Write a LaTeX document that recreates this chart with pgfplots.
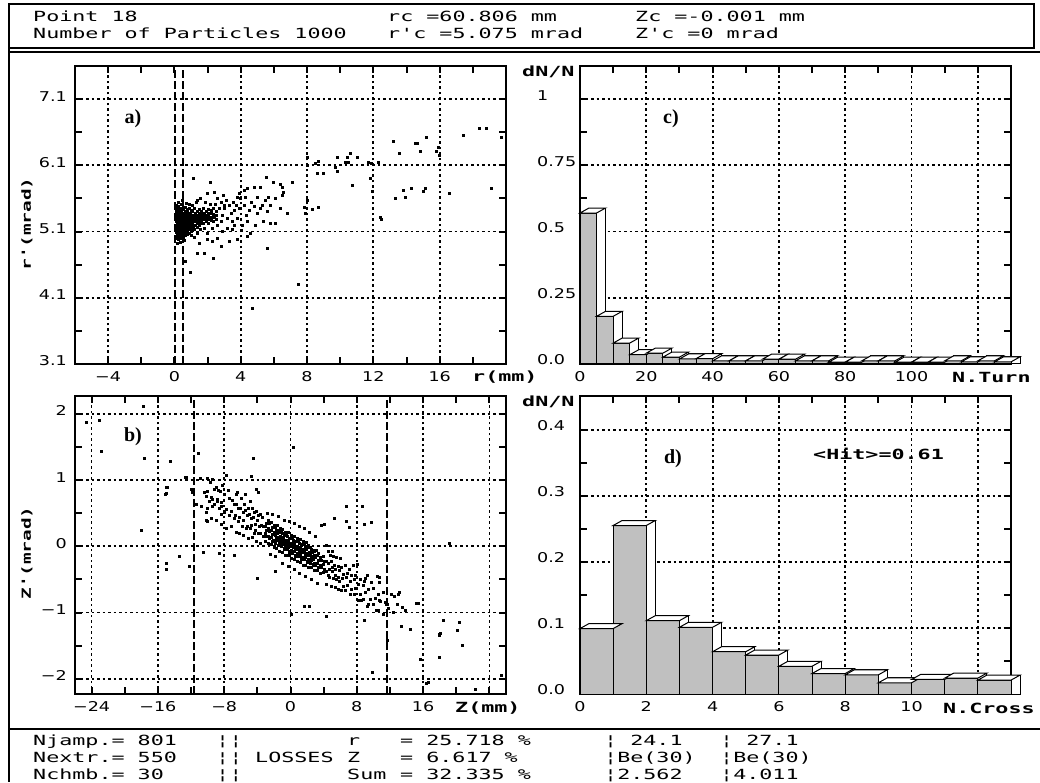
\documentclass[border=0pt]{standalone}
\usepackage{fontspec}
\usepackage{pgfplots}
\pgfplotsset{compat=1.18}
\usepackage{pgfplotstable}
\newfontfamily\monof[FakeStretch=1.55]{DejaVu Sans Mono}
\newfontfamily\tickf[FakeStretch=1.3]{DejaVu Sans}
\newfontfamily\serf{Liberation Serif}
\newcommand\hdr{\monof\fontsize{14}{16}\selectfont}
\newcommand\lab{\monof\bfseries\fontsize{14}{16}\selectfont}
\newcommand\rlab{\monof\bfseries\fontsize{12.5}{14}\selectfont}
\newcommand\plet{\serf\bfseries\fontsize{20}{22}\selectfont}
\definecolor{barg}{RGB}{192,192,192}

% top face of the 3D bars (bar width in pt, depth 9pt x 5pt)
\pgfdeclareplotmark{topc}{%
  \pgfpathmoveto{\pgfqpoint{-8.29pt}{0pt}}\pgfpathlineto{\pgfqpoint{8.29pt}{0pt}}%
  \pgfpathlineto{\pgfqpoint{17.29pt}{5pt}}\pgfpathlineto{\pgfqpoint{0.71pt}{5pt}}%
  \pgfpathclose\pgfusepathqfillstroke}
\pgfdeclareplotmark{topd}{%
  \pgfpathmoveto{\pgfqpoint{-16.58pt}{0pt}}\pgfpathlineto{\pgfqpoint{16.58pt}{0pt}}%
  \pgfpathlineto{\pgfqpoint{25.58pt}{5pt}}\pgfpathlineto{\pgfqpoint{-7.58pt}{5pt}}%
  \pgfpathclose\pgfusepathqfillstroke}

\pgfplotstableread{
x y
2.5 0.570
7.5 0.180
12.5 0.079
17.5 0.035
22.5 0.041
27.5 0.026
32.5 0.019
37.5 0.020
42.5 0.012
47.5 0.012
52.5 0.012
57.5 0.018
62.5 0.018
67.5 0.012
72.5 0.012
77.5 0.007
82.5 0.007
87.5 0.012
92.5 0.012
97.5 0.007
102.5 0.007
107.5 0.007
112.5 0.012
117.5 0.008
122.5 0.012
127.5 0.008
}\histc

\pgfplotstableread{
x y
0.5 0.099
1.5 0.255
2.5 0.111
3.5 0.101
4.5 0.064
5.5 0.059
6.5 0.042
7.5 0.031
8.5 0.029
9.5 0.017
10.5 0.022
11.5 0.024
12.5 0.021
}\histd

\pgfplotsset{
  panel/.style={
    scale only axis, width=431pt, height=298pt, anchor=south west,
    axis line style={line width=2pt},
    tick align=inside, xtick pos=both, ytick pos=both,
    xticklabel pos=lower, yticklabel pos=left,
    major tick length=7pt, minor tick length=7pt,
    tick style={black, line width=2pt},
    grid=major,
    major grid style={black, line width=1.8pt, dash pattern=on 2.5pt off 3pt},
    tick label style={font=\tickf\fontsize{13.5}{15}\selectfont, inner sep=0pt},
    xticklabel style={anchor=north, yshift=-7pt},
  },
  scat/.style={panel, yticklabel style={anchor=east, xshift=-8pt, yshift=3pt}},
  hist/.style={panel, clip=false, yticklabel style={anchor=west, xshift=-43pt, yshift=4pt}},
  dots/.style={only marks, mark=square*, mark size=1pt, black},
  cut/.style={black, line width=2pt, dash pattern=on 8pt off 3pt},
}

\begin{document}
\frenchspacing
\begin{tikzpicture}
\useasboundingbox (0pt,0pt) rectangle (1040pt,782pt);

% frames
\draw[line width=1.5pt] (9pt,778pt) rectangle (1034pt,734pt);
\draw[line width=2pt] (9pt,730pt) -- (1040pt,730pt);
\draw[line width=2pt] (9pt,734pt) -- (9pt,0pt);
\draw[line width=2pt] (9pt,53pt) -- (1040pt,53pt);

% header
\node[anchor=base west, inner sep=0pt, font=\hdr] at (33pt,760pt) {Point 18};
\node[anchor=base west, inner sep=0pt, font=\hdr] at (33pt,743pt) {Number of Particles 1000};
\node[anchor=base west, inner sep=0pt, font=\hdr] at (387pt,760pt) {rc =60.806 mm};
\node[anchor=base west, inner sep=0pt, font=\hdr] at (387pt,743pt) {r'c =5.075 mrad};
\node[anchor=base west, inner sep=0pt, font=\hdr] at (635pt,760pt) {Zc =-0.001 mm};
\node[anchor=base west, inner sep=0pt, font=\hdr] at (635pt,743pt) {Z'c =0 mrad};

% footer
\foreach \yy/\a/\b/\c/\d/\e/\f in {37/Njamp.= 801/ /r/= 25.718 \%/¦ 24.1/¦ 27.1,
                                  20/Nextr.= 550/LOSSES/Z/= 6.617 \%/¦Be(30)/¦Be(30),
                                  3/Nchmb.= 30/ /Sum/= 32.335 \%/¦2.562/¦4.011}{
  \node[anchor=base west, inner sep=0pt, font=\hdr] at (33pt,\yy pt) {\a};
  \node[anchor=base west, inner sep=0pt, font=\hdr] at (216pt,\yy pt) {¦¦};
  \node[anchor=base west, inner sep=0pt, font=\hdr] at (255pt,\yy pt) {\b};
  \node[anchor=base west, inner sep=0pt, font=\hdr] at (347pt,\yy pt) {\c};
  \node[anchor=base west, inner sep=0pt, font=\hdr] at (400pt,\yy pt) {\d};
  \node[anchor=base west, inner sep=0pt, font=\hdr] at (604pt,\yy pt) {\e};
  \node[anchor=base west, inner sep=0pt, font=\hdr] at (720pt,\yy pt) {\f};
}

% ---------------- a) r - r'
\begin{axis}[scat, at={(75pt,418pt)},
  xmin=-6, xmax=20, ymin=3.1, ymax=7.6,
  xtick={-4,0,4,8,12,16}, xticklabels={−4,0,4,8,12,16},
  minor xtick={-2,2,6,10,14,18},
  ytick={3.1,4.1,5.1,6.1,7.1}, yticklabels={3.1,4.1,5.1,6.1,7.1},
  minor ytick={3.6,4.6,5.6,6.6}]
\addplot[dots] coordinates {
(0.12,5.00)(0.14,5.05)(0.11,5.09)(0.13,5.13)(0.12,5.17)(0.15,5.21)(0.11,5.25)(0.13,5.29)(0.12,5.33)(0.14,5.37)(0.12,5.41)(0.13,5.45)(0.12,5.50)
(0.22,4.98)(0.24,5.03)(0.21,5.07)(0.23,5.11)(0.22,5.15)(0.25,5.19)(0.21,5.23)(0.23,5.27)(0.22,5.31)(0.24,5.35)(0.22,5.39)(0.23,5.43)(0.22,5.48)
(0.32,5.01)(0.34,5.05)(0.31,5.09)(0.33,5.13)(0.32,5.17)(0.35,5.21)(0.31,5.25)(0.33,5.29)(0.32,5.33)(0.34,5.37)(0.32,5.42)(0.33,5.46)
(0.42,5.00)(0.44,5.04)(0.41,5.08)(0.43,5.12)(0.42,5.16)(0.45,5.20)(0.41,5.24)(0.43,5.28)(0.42,5.32)(0.44,5.36)(0.42,5.40)(0.43,5.44)(0.42,5.52)
(0.52,5.02)(0.54,5.06)(0.51,5.10)(0.53,5.14)(0.52,5.18)(0.55,5.22)(0.51,5.26)(0.53,5.30)(0.52,5.34)(0.54,5.38)(0.52,5.43)
(0.62,5.04)(0.64,5.08)(0.61,5.12)(0.63,5.16)(0.62,5.20)(0.65,5.24)(0.61,5.28)(0.63,5.32)(0.62,5.36)(0.64,5.41)(0.62,5.47)
(0.74,5.06)(0.76,5.10)(0.73,5.14)(0.75,5.18)(0.74,5.22)(0.77,5.26)(0.73,5.30)(0.75,5.34)(0.74,5.39)(0.76,5.44)
(0.86,5.08)(0.88,5.13)(0.85,5.17)(0.87,5.21)(0.86,5.25)(0.89,5.29)(0.85,5.33)(0.87,5.38)(0.86,5.45)
(0.98,5.10)(1.00,5.15)(0.97,5.20)(0.99,5.24)(0.98,5.28)(1.01,5.32)(0.97,5.36)(0.99,5.42)
(1.10,5.12)(1.12,5.18)(1.09,5.23)(1.11,5.27)(1.10,5.31)(1.13,5.35)(1.09,5.40)
(1.22,5.14)(1.24,5.20)(1.21,5.25)(1.23,5.29)(1.22,5.33)(1.25,5.38)(1.21,5.46)
(1.35,5.17)(1.37,5.22)(1.34,5.27)(1.36,5.31)(1.35,5.35)(1.38,5.41)
(1.48,5.19)(1.50,5.24)(1.47,5.29)(1.49,5.33)(1.48,5.38)(1.51,5.44)
(1.62,5.22)(1.64,5.27)(1.61,5.31)(1.63,5.36)(1.62,5.41)
(1.76,5.23)(1.78,5.28)(1.75,5.33)(1.77,5.38)(1.76,5.46)
(1.90,5.25)(1.92,5.30)(1.89,5.35)(1.91,5.40)
(2.05,5.22)(2.07,5.28)(2.04,5.33)(2.06,5.38)(2.05,5.44)
(2.20,5.27)(2.22,5.32)(2.19,5.37)(2.21,5.42)
(2.35,5.25)(2.37,5.31)(2.34,5.36)(2.36,5.45)
(2.50,5.29)(2.52,5.35)(2.49,5.40)
(0.15,4.92)(0.35,4.94)(0.6,4.97)(0.25,5.55)(0.45,5.58)(0.7,5.53)(0.9,5.52)(1.1,5.5)(1.3,5.55)(1.37,5.58)
(1.57,5.6)(1.97,5.68)(2.37,5.7)(2.97,5.65)(3.57,5.55)(3.98,5.6)(1.16,5.9)(2.17,5.85)(1.0,5.05)(1.2,5.02)
(1.4,5.08)(1.57,5.13)(1.97,5.08)(1.8,5.15)(2.3,5.15)(2.6,5.2)(2.8,5.25)(2.9,5.35)(3.0,5.45)(3.17,5.15)
(3.47,5.13)(3.2,5.3)(3.4,5.38)(3.3,5.5)(3.6,5.42)(3.8,5.3)(3.9,5.45)(3.78,4.98)(4.38,5.03)(4.58,5.08)
(4.1,5.2)(4.3,5.35)(4.5,5.42)(4.2,5.5)(4.6,5.55)(4.8,5.48)(5.0,5.38)(4.28,5.62)(4.98,5.62)(3.88,5.68)
(3.78,5.62)(4.18,5.72)(4.38,5.75)(4.78,5.77)(5.18,5.77)(5.48,5.58)(5.68,5.62)(5.52,5.92)(5.98,5.85)(6.39,5.82)
(6.49,5.77)(7.13,5.85)(6.58,5.7)(6.49,5.65)(6.39,5.45)(6.79,5.38)(5.38,5.25)(5.78,5.23)(6.08,5.23)(5.58,4.85)
(7.49,4.3)(4.68,3.95)(0.66,4.65)(0.96,4.48)(1.37,4.77)(1.77,4.78)(2.31,4.7)(2.27,4.95)(2.6,5.0)(1.5,4.92)
(5.3,5.5)(5.8,5.5)(6.1,5.6)(3.6,5.2)(2.7,5.45)(2.8,5.55)(3.1,5.58)(2.6,5.6)(2.45,5.52)(2.15,5.52)
(1.85,5.55)(2.9,5.1)(3.5,5.25)(4.0,5.12)(4.4,5.25)(4.9,5.2)(5.2,5.45)(5.6,5.4)(3.3,4.95)(2.0,4.98)
(2.8,4.88)(3.0,5.5)(3.7,5.5)
(13.2,6.46)(13.57,6.29)(14.5,6.44)(14.65,6.44)(14.8,6.31)(15.2,6.53)(15.8,6.31)(17.4,6.56)(18.4,6.66)(18.8,6.66)
(19.7,6.53)(13.3,5.6)(13.8,5.73)(13.9,5.62)(14.3,5.75)(15.0,5.71)(15.1,5.75)(16.6,5.68)(19.1,5.75)(12.4,5.31)
(12.5,5.29)(11.9,5.71)(11.8,5.9)(11.7,6.15)(11.85,6.13)(12.3,6.15)(10.6,6.28)(10.4,6.23)(11.0,6.22)(10.3,6.15)
(10.5,6.15)(9.8,6.23)(9.7,6.07)(9.8,6.01)(10.7,5.8)(8.5,6.13)(8.7,6.16)(8.6,5.98)(9.0,5.98)(8.0,6.22)
(8.0,6.1)(7.8,5.47)(7.9,5.38)(8.3,5.43)(8.7,5.47)(8.0,5.58)(16.0,6.25)(15.9,6.38)
};
\addplot[cut] coordinates {(0.02,3.1) (0.02,7.6)};
\addplot[cut] coordinates {(0.5,3.1) (0.5,7.6)};
\end{axis}

% ---------------- b) Z - Z'
\begin{axis}[scat, at={(75pt,88pt)},
  xmin=-26, xmax=26, ymin=-2.23, ymax=2.27,
  xtick={-24,-16,-8,0,8,16,24}, xticklabels={−24,−16,−8,0,8,16,},
  minor xtick={-20,-12,-4,4,12,20},
  ytick={-2,-1,0,1,2}, yticklabels={−2,−1,0,1,2},
  minor ytick={-1.5,-0.5,0.5,1.5}]
\addplot[dots] coordinates {
(-3.08,0.07)(-2.92,0.15)(-3.1,0.20)(-2.96,0.24)(-3.04,0.31)(-2.9,0.35)
(-2.72,0.04)(-2.55,0.12)(-2.7,0.16)(-2.6,0.23)(-2.75,0.27)(-2.58,0.35)(-2.68,0.39)
(-2.38,0.03)(-2.22,0.07)(-2.36,0.14)(-2.25,0.18)(-2.34,0.25)(-2.21,0.29)(-2.36,0.36)
(-2.02,-0.01)(-1.88,0.07)(-2.04,0.10)(-1.9,0.18)(-1.99,0.21)(-1.86,0.29)(-2.01,0.32)
(-1.68,-0.03)(-1.52,0.01)(-1.66,0.09)(-1.55,0.12)(-1.64,0.20)(-1.51,0.24)(-1.66,0.32)
(-1.32,-0.08)(-1.18,0.00)(-1.33,0.04)(-1.2,0.11)(-1.29,0.15)(-1.16,0.23)(-1.3,0.27)
(-0.97,-0.09)(-0.82,-0.05)(-0.98,0.03)(-0.85,0.06)(-0.94,0.14)(-0.81,0.18)(-0.96,0.26)
(-0.62,-0.13)(-0.47,-0.05)(-0.63,-0.01)(-0.5,0.06)(-0.59,0.10)(-0.46,0.17)(-0.61,0.21)
(-0.27,-0.14)(-0.12,-0.10)(-0.28,-0.02)(-0.15,0.01)(-0.24,0.09)(-0.11,0.13)(-0.26,0.21)
(0.08,-0.18)(0.23,-0.10)(0.07,-0.06)(0.2,0.01)(0.11,0.05)(0.24,0.13)(0.09,0.17)
(0.43,-0.19)(0.58,-0.15)(0.42,-0.07)(0.55,-0.04)(0.46,0.04)(0.59,0.08)(0.44,0.16)
(0.78,-0.23)(0.93,-0.15)(0.77,-0.11)(0.9,-0.04)(0.81,0.00)(0.94,0.08)(0.79,0.12)
(1.13,-0.24)(1.28,-0.20)(1.12,-0.12)(1.25,-0.09)(1.16,-0.01)(1.29,0.03)(1.14,0.11)
(1.48,-0.28)(1.63,-0.20)(1.47,-0.16)(1.6,-0.09)(1.51,-0.05)(1.64,0.03)(1.49,0.07)
(1.83,-0.28)(1.98,-0.24)(1.82,-0.16)(1.95,-0.13)(1.86,-0.05)(1.99,-0.01)(1.84,0.06)
(2.18,-0.32)(2.33,-0.24)(2.17,-0.20)(2.3,-0.13)(2.21,-0.09)(2.34,-0.02)(2.19,0.02)
(2.53,-0.32)(2.68,-0.28)(2.52,-0.21)(2.65,-0.17)(2.56,-0.09)(2.69,-0.06)
(2.88,-0.36)(3.03,-0.28)(2.87,-0.25)(3.0,-0.17)(2.91,-0.13)(3.04,-0.06)
(3.23,-0.36)(3.38,-0.32)(3.22,-0.25)(3.35,-0.21)(3.26,-0.13)(3.39,-0.10)
(3.58,-0.40)(3.73,-0.32)(3.57,-0.29)(3.7,-0.21)(3.61,-0.17)
(3.93,-0.39)(4.08,-0.35)(3.92,-0.27)(4.05,-0.23)(3.96,-0.15)
(-1.85,0.05)(-1.76,0.13)(-1.83,0.17)(-1.74,0.25)(-1.5,0.02)(-1.41,0.10)(-1.48,0.14)(-1.39,0.22)
(-1.15,0.00)(-1.06,0.08)(-1.13,0.12)(-1.04,0.20)(-0.8,-0.03)(-0.71,0.05)(-0.78,0.09)(-0.69,0.17)
(-0.45,-0.05)(-0.36,0.03)(-0.43,0.07)(-0.34,0.15)(-0.1,-0.08)(-0.01,0.00)(-0.08,0.04)(0.01,0.12)
(0.25,-0.10)(0.34,-0.02)(0.27,0.02)(0.36,0.10)(0.6,-0.13)(0.69,-0.05)(0.62,0.00)(0.71,0.08)
(0.95,-0.15)(1.04,-0.07)(0.97,-0.03)(1.06,0.05)(1.3,-0.17)(1.39,-0.09)(1.32,-0.05)(1.41,0.03)
(1.65,-0.20)(1.74,-0.12)(1.67,-0.08)(1.76,0.00)(2.0,-0.22)(2.09,-0.14)(2.02,-0.10)(2.11,-0.02)
(2.35,-0.25)(2.44,-0.17)(2.37,-0.13)(2.46,-0.05)(2.7,-0.27)(2.79,-0.19)(2.72,-0.15)(2.81,-0.07)
(-10.2,0.52)(-9.85,0.68)(-10.05,0.83)(-9.7,0.97)(-9.55,0.43)(-9.25,0.63)(-9.6,0.74)(-9.15,0.86)(-9.45,1.02)
(-8.95,0.39)(-8.6,0.57)(-8.85,0.71)(-8.5,0.83)(-8.35,0.33)(-8.05,0.52)(-8.4,0.66)(-7.95,0.78)(-8.25,0.93)
(-7.75,0.27)(-7.45,0.47)(-7.8,0.56)(-7.35,0.73)(-7.55,0.85)(-7.15,0.31)(-6.85,0.42)(-7.2,0.53)(-6.8,0.63)(-7.05,0.69)
(-6.6,0.22)(-6.35,0.38)(-6.7,0.47)(-6.3,0.57)(-6.55,0.63)(-6.4,0.81)(-6.15,0.2)(-5.85,0.31)(-6.2,0.44)(-5.75,0.52)(-6.05,0.58)(-5.9,0.73)
(-5.65,0.17)(-5.35,0.28)(-5.7,0.4)(-5.25,0.47)(-5.45,0.55)(-5.6,0.64)(-5.15,0.12)(-4.85,0.27)(-5.2,0.31)(-4.75,0.42)(-4.95,0.49)(-5.1,0.57)(-4.9,0.68)
(-4.65,0.14)(-4.35,0.2)(-4.7,0.32)(-4.25,0.34)(-4.55,0.44)(-4.4,0.52)(-4.6,0.58)(-4.15,0.08)(-3.85,0.2)(-4.2,0.24)(-3.75,0.3)(-4.05,0.4)(-3.9,0.47)(-4.1,0.53)
(-3.65,0.04)(-3.35,0.16)(-3.7,0.2)(-3.3,0.3)(-3.55,0.32)(-3.45,0.44)(-3.6,0.48)
(-2.8,0.5)(-2.2,0.48)(-1.5,0.45)(-0.8,0.4)(-0.2,0.38)(0.5,0.35)(1.0,0.3)(1.6,0.28)(2.3,0.22)(3.0,0.15)
(-2.5,-0.12)(-1.8,-0.15)(-1.0,-0.25)(-0.3,-0.3)(0.4,-0.35)(1.1,-0.4)(1.8,-0.45)(2.5,-0.5)(3.2,-0.55)
(4.25,-0.57)(4.55,-0.43)(4.35,-0.38)(4.6,-0.26)(4.3,-0.22)(4.5,-0.08)(4.35,0.02)
(4.95,-0.6)(4.7,-0.46)(5.0,-0.38)(4.65,-0.34)(4.9,-0.22)(4.75,-0.13)(5.0,-0.07)
(5.35,-0.62)(5.1,-0.48)(5.4,-0.44)(5.05,-0.32)(5.3,-0.28)(5.15,-0.15)
(5.75,-0.65)(5.5,-0.5)(5.8,-0.46)(5.45,-0.34)(5.7,-0.3)(5.55,-0.16)
(6.15,-0.67)(5.9,-0.53)(6.2,-0.48)(5.85,-0.36)(6.1,-0.32)(5.95,-0.18)
(6.65,-0.66)(6.35,-0.6)(6.7,-0.46)(6.3,-0.42)(6.55,-0.28)(7.15,-0.72)(6.85,-0.58)(7.2,-0.52)(6.8,-0.4)(7.05,-0.34)
(7.65,-0.73)(7.35,-0.64)(7.7,-0.5)(7.3,-0.44)(7.55,-0.28)(8.15,-0.82)(7.85,-0.63)(8.2,-0.57)(7.8,-0.43)(8.05,-0.27)
(8.75,-0.8)(8.45,-0.72)(8.8,-0.58)(8.4,-0.5)(9.35,-0.87)(9.05,-0.7)(9.4,-0.64)(9.0,-0.48)
(9.95,-0.88)(9.65,-0.8)(10.0,-0.63)(10.55,-0.97)(10.25,-0.78)(10.6,-0.72)(11.15,-1.02)(10.85,-0.83)(11.2,-0.7)
(11.75,-0.93)(11.45,-0.84)(12.45,-1.0)(12.15,-0.73)
(-12.6,1.05)(-10.9,1.03)(-10.1,1.03)(-7.76,1.08)(-4.74,1.06)(-14.9,0.89)(-15.1,0.78)(-12.0,0.86)(-11.8,0.81)(-10.4,0.81)
(-10.2,0.76)(-9.0,0.90)(-8.7,0.85)(-9.4,0.71)(-8.8,0.68)(-8.4,0.61)(-6.6,0.78)(-5.5,0.78)(-4.1,0.86)(-3.9,0.81)
(-11.4,0.63)(-10.8,0.61)(-10.0,0.58)(-9.4,0.61)(-10.2,0.40)(-10.0,0.38)(-8.4,0.48)(-8.0,0.53)
(-17.8,2.11)(-24.7,1.88)(-23.1,1.91)(-22.8,1.43)(-17.7,1.33)(-14.5,1.29)(-11.1,1.40)(-4.46,1.33)(0.28,1.5)(-12.7,1.04)
(-15.0,0.89)(-15.0,0.8)(-18.0,0.24)(-13.4,-0.15)(-15.0,-0.25)(-15.0,-0.35)(-12.2,-0.30)(-10.5,-0.09)(-8.56,-0.11)(-6.76,-0.14)
(-4.06,-0.48)(-1.8,-0.38)(1.69,-0.91)(2.29,-0.91)(0.08,-1.02)(4.3,-1.06)(6.7,0.38)(7.1,0.29)(5.3,0.43)(3.7,0.32)
(4.1,0.33)(6.7,0.61)(8.7,0.61)(9.7,0.36)(8.9,0.33)(19.2,0.05)(10.7,-0.47)(10.7,-0.54)(9.3,-0.44)(13.1,-0.69)
(15.4,-0.86)(13.5,-0.92)(12.9,-0.87)(13.4,-1.2)(14.4,-1.25)(18.4,-1.12)(18.0,-1.32)(17.9,-1.68)(20.3,-1.14)(20.1,-1.27)
(20.7,-1.49)(15.6,-1.70)(11.7,-1.41)(11.7,-0.87)(9.9,-1.9)(16.6,-2.05)(22.3,-2.16)(25.4,-1.95)(8.9,-1.11)(18.1,-1.31)
(17.9,-1.34)(16.4,-2.06)(12.5,-0.76)(13.0,-0.72)(10.7,-0.81)(10.3,-0.96)(15.2,-0.86)(13.8,-0.96)(11.5,-0.88)(9.3,-0.91)
(8.5,-0.81)(8.9,-0.52)(9.7,-0.54)(10.5,-0.45)
};
\addplot[cut] coordinates {(-11.7,-2.23) (-11.7,2.27)};
\addplot[cut] coordinates {(11.6,-2.23) (11.6,2.27)};
\end{axis}

% ---------------- c) N.Turn histogram
\begin{axis}[hist, at={(580pt,418pt)},
  xmin=0, xmax=130, ymin=0, ymax=1.125,
  xtick={0,20,40,60,80,100,120}, xticklabels={0,20,40,60,80,100,},
  minor xtick={10,30,50,70,90,110},
  ytick={0,0.25,0.5,0.75,1}, yticklabels={0.0,0.25,0.5,0.75,1},
  minor ytick={0.125,0.375,0.625,0.875}]
\addplot[ybar, bar width=5, bar shift=9pt, fill=white, draw=black, line width=1pt,
  y filter/.expression={y+0.0189}] table {\histc};
\addplot[only marks, mark=topc, mark options={fill=white, draw=black, line width=1pt, solid}] table {\histc};
\addplot[ybar, bar width=5, fill=barg, draw=black, line width=1pt] table {\histc};
\end{axis}

% ---------------- d) N.Cross histogram
\begin{axis}[hist, at={(580pt,88pt)},
  xmin=0, xmax=13, ymin=0, ymax=0.451,
  xtick={0,2,4,6,8,10,12}, xticklabels={0,2,4,6,8,10,},
  minor xtick={1,3,5,7,9,11},
  ytick={0,0.1,0.2,0.3,0.4}, yticklabels={0.0,0.1,0.2,0.3,0.4},
  minor ytick={0.05,0.15,0.25,0.35}]
\addplot[ybar, bar width=1, bar shift=9pt, fill=white, draw=black, line width=1pt,
  y filter/.expression={y+0.00757}] table {\histd};
\addplot[only marks, mark=topd, mark options={fill=white, draw=black, line width=1pt, solid}] table {\histd};
\addplot[ybar, bar width=1, fill=barg, draw=black, line width=1pt] table {\histd};
\end{axis}

% axis descriptions
\node[rotate=90, font=\rlab] at (27pt,558pt) {r'(mrad)};
\node[rotate=90, font=\rlab] at (27pt,229pt) {Z'(mrad)};
\node[anchor=west, inner sep=0pt, font=\lab] at (472pt,405pt) {r(mm)};
\node[anchor=west, inner sep=0pt, font=\lab] at (455pt,74pt) {Z(mm)};
\node[anchor=west, inner sep=0pt, font=\lab] at (952pt,405pt) {N.Turn};
\node[anchor=west, inner sep=0pt, font=\lab] at (943pt,74pt) {N.Cross};
\node[anchor=west, inner sep=0pt, font=\lab] at (522pt,710pt) {dN/N};
\node[anchor=west, inner sep=0pt, font=\lab] at (522pt,380pt) {dN/N};
\node[anchor=west, inner sep=0pt, font=\lab] at (813pt,328pt) {<Hit>=0.61};
\node[font=\plet] at (133pt,663pt) {a)};
\node[font=\plet] at (133pt,345pt) {b)};
\node[font=\plet] at (671pt,663pt) {c)};
\node[font=\plet] at (673pt,323pt) {d)};
\end{tikzpicture}
\end{document}
